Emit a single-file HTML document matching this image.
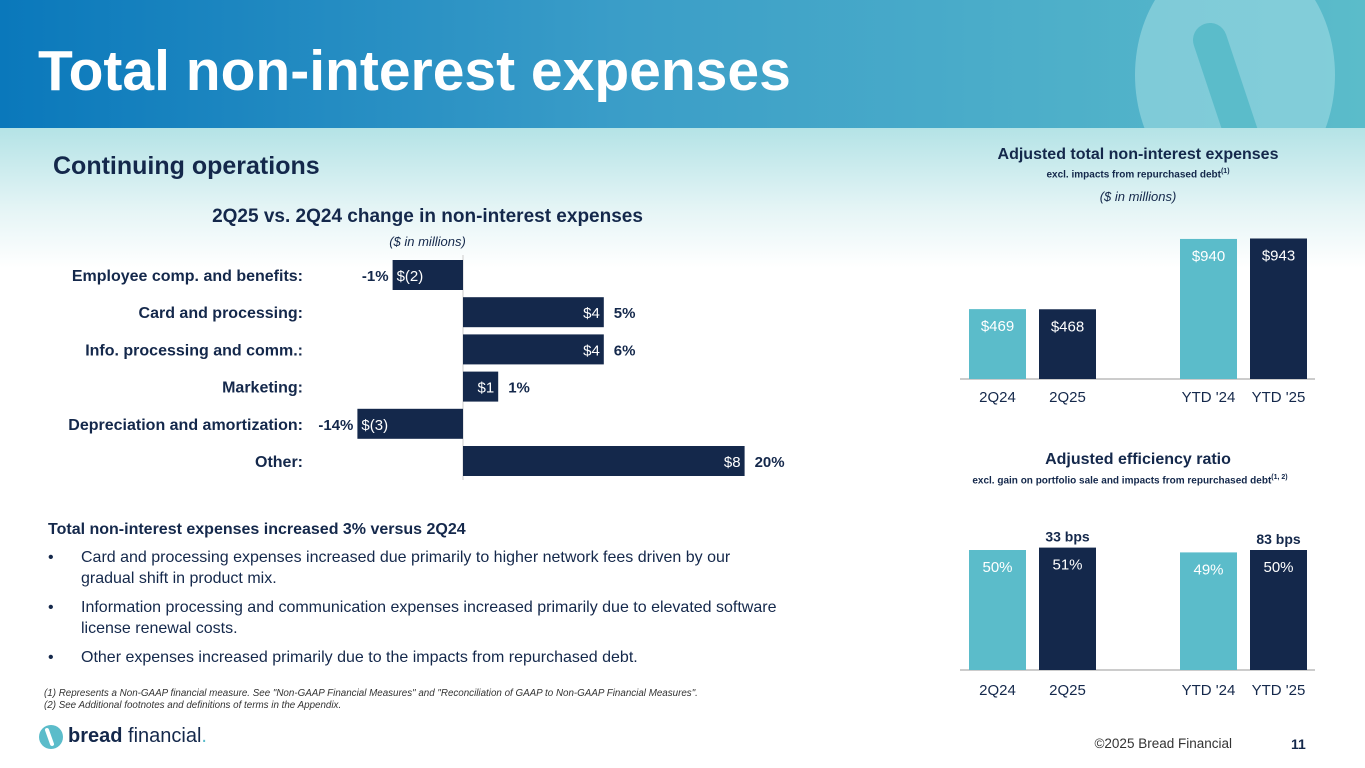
<!DOCTYPE html>
<html><head><meta charset="utf-8"><style>
body{margin:0;width:1365px;height:768px;overflow:hidden;font-family:"Liberation Sans",sans-serif;background:#fff;position:relative}
.abs{position:absolute}
.bl{position:relative;padding-left:33px;margin-bottom:8px}
.bl span{position:absolute;left:0;top:0}
</style></head><body>
<div class="abs" style="left:0;top:0;width:1365px;height:128px;background:linear-gradient(90deg,#0a78bb 0%,#3a9dc8 45%,#5bbcca 100%)"></div>
<svg class="abs" style="left:1130px;top:0" width="235" height="128"><ellipse cx="105" cy="75" rx="100" ry="125" fill="#9fdbe2" opacity="0.6"/><path d="M80 40 L120 160" stroke="#5bbcca" stroke-width="34" stroke-linecap="round"/></svg>
<div class="abs" style="left:0;top:128px;width:1365px;height:140px;background:linear-gradient(180deg,#b4e3e6 0%,#e6f5f6 60%,#fff 100%)"></div>
<div class="abs" style="left:38px;top:38px;font-size:57px;font-weight:bold;color:#fff">Total non-interest expenses</div>
<div class="abs" style="left:53px;top:152px;font-size:25px;font-weight:bold;color:#14284b">Continuing operations</div>
<div class="abs" style="left:0;width:855px;text-align:center;top:206px;font-size:19px;font-weight:bold;color:#14284b">2Q25 vs. 2Q24 change in non-interest expenses</div>
<div class="abs" style="left:0;width:855px;text-align:center;top:234px;font-size:13px;font-style:italic;color:#14284b">($ in millions)</div>
<div class="abs" style="left:958px;width:360px;text-align:center;top:146px;font-size:16px;font-weight:bold;color:#14284b">Adjusted total non-interest expenses</div>
<div class="abs" style="left:958px;width:360px;text-align:center;top:168px;font-size:10px;font-weight:bold;color:#14284b">excl. impacts from repurchased debt<sup style="font-size:7px">(1)</sup></div>
<div class="abs" style="left:958px;width:360px;text-align:center;top:189px;font-size:13px;font-style:italic;color:#14284b">($ in millions)</div>
<div class="abs" style="left:958px;width:360px;text-align:center;top:451px;font-size:16px;font-weight:bold;color:#14284b">Adjusted efficiency ratio</div>
<div class="abs" style="left:930px;width:400px;text-align:center;top:474px;font-size:10px;font-weight:bold;color:#14284b">excl. gain on portfolio sale and impacts from repurchased debt<sup style="font-size:7px">(1, 2)</sup></div>
<svg id="c1" class="abs" style="left:0;top:250px" width="860" height="240"></svg>
<svg id="c2" class="abs" style="left:950px;top:220px" width="380" height="200"></svg>
<svg id="c3" class="abs" style="left:950px;top:520px" width="380" height="180"></svg>
<div class="abs" style="left:48px;top:519px;width:740px;font-size:16px;color:#14284b;line-height:21px">
<div style="font-weight:bold;margin-bottom:7px">Total non-interest expenses increased 3% versus 2Q24</div>
<div class="bl"><span>•</span>Card and processing expenses increased due primarily to higher network fees driven by our gradual shift in product mix.</div>
<div class="bl"><span>•</span>Information processing and communication expenses increased primarily due to elevated software license renewal costs.</div>
<div class="bl"><span>•</span>Other expenses increased primarily due to the impacts from repurchased debt.</div>
</div>
<div class="abs" style="left:44px;top:688px;font-size:9.8px;font-style:italic;color:#333;line-height:12px">(1) Represents a Non-GAAP financial measure. See "Non-GAAP Financial Measures" and "Reconciliation of GAAP to Non-GAAP Financial Measures".<br>(2) See Additional footnotes and definitions of terms in the Appendix.</div>
<svg class="abs" style="left:38px;top:724px" width="26" height="26"><circle cx="13" cy="13" r="12" fill="#5bbcca"/><path d="M9 6 L14 20" stroke="#fff" stroke-width="4" stroke-linecap="round"/></svg>
<div class="abs" style="left:68px;top:725px;font-size:20px;color:#14284b"><b>bread</b> financial<span style="color:#5bbcca">.</span></div>
<div class="abs" style="left:1032px;width:200px;text-align:right;top:736px;font-size:13.5px;color:#333">©2025 Bread Financial</div>
<div class="abs" style="left:1291px;top:736px;font-size:14px;font-weight:bold;color:#14284b">11</div>
<script>
const NS="http://www.w3.org/2000/svg";
const navy="#14284b",teal="#5bbcca";
const catLabels=["Employee comp. and benefits:","Card and processing:","Info. processing and comm.:","Marketing:","Depreciation and amortization:","Other:"];
const changeValues=[-2,4,4,1,-3,8];
const changeLabels=["$(2)","$4","$4","$1","$(3)","$8"];
const pctLabels=["-1%","5%","6%","1%","-14%","20%"];
const periods=["2Q24","2Q25","YTD '24","YTD '25"];
const expenseValues=[469,468,940,943];
const expenseLabels=["$469","$468","$940","$943"];
const effValues=[50,51,49,50];
const effLabels=["50%","51%","49%","50%"];
const bpsLabels=["33 bps","83 bps"];
function mk(p,t,a,txt){const e=document.createElementNS(NS,t);for(const k in a)e.setAttribute(k,a[k]);if(txt!=null)e.textContent=txt;p.appendChild(e);return e;}
const c1=document.getElementById('c1');
const x0=463, xs=v=>x0+v*35.2, rowY=i=>10+i*37.2;
mk(c1,'line',{x1:x0,x2:x0,y1:5,y2:230,stroke:'#ccc'});
changeValues.forEach((v,i)=>{
 const y=rowY(i),a=Math.min(xs(0),xs(v)),w=Math.abs(xs(v)-xs(0));
 const r=mk(c1,'rect',{x:a,y:y,width:w,height:30,fill:navy});
 
 
 const l=mk(c1,'text',{x:303,y:y+21,'text-anchor':'end','font-size':16,'font-weight':'bold',fill:navy},catLabels[i]);
 
 
 if(v<0){
  const t=mk(c1,'text',{x:a+4,y:y+21,'font-size':15,fill:'#fff'},changeLabels[i]);
  
  
  const p=mk(c1,'text',{x:a-4,y:y+21,'text-anchor':'end','font-size':15,'font-weight':'bold',fill:navy},pctLabels[i]);
  
  
 }else{
  const t=mk(c1,'text',{x:a+w-4,y:y+21,'text-anchor':'end','font-size':15,fill:'#fff'},changeLabels[i]);
  
  
  const p=mk(c1,'text',{x:a+w+10,y:y+21,'font-size':15,'font-weight':'bold',fill:navy},pctLabels[i]);
  
  
 }
});
const barX=[19,89,230,300];
function colChart(svg,vals,labs,base,scale,axisY){
 mk(svg,'line',{x1:10,x2:365,y1:base,y2:base,stroke:'#bbb','stroke-width':1.5});
 vals.forEach((v,i)=>{
  const h=v*scale;
  const r=mk(svg,'rect',{x:barX[i],y:base-h,width:57,height:h,fill:i%2?navy:teal});
  
  
  const t=mk(svg,'text',{x:barX[i]+28.5,y:base-h+22,'text-anchor':'middle','font-size':15,fill:'#fff'},labs[i]);
  
  
  const c=mk(svg,'text',{x:barX[i]+28.5,y:axisY,'text-anchor':'middle','font-size':15,fill:'#14284b'},periods[i]);
  
  
 });
}
colChart(document.getElementById('c2'),expenseValues,expenseLabels,159,0.149,182);
const c3=document.getElementById('c3');
colChart(c3,effValues,effLabels,150,2.4,175);
bpsLabels.forEach((b,i)=>{
 const idx=i*2+1,h=effValues[idx]*2.4;
 const t=mk(c3,'text',{x:barX[idx]+28.5,y:150-h-6,'text-anchor':'middle','font-size':14,'font-weight':'bold',fill:navy},b);
 
 
});
</script>
</body></html>
